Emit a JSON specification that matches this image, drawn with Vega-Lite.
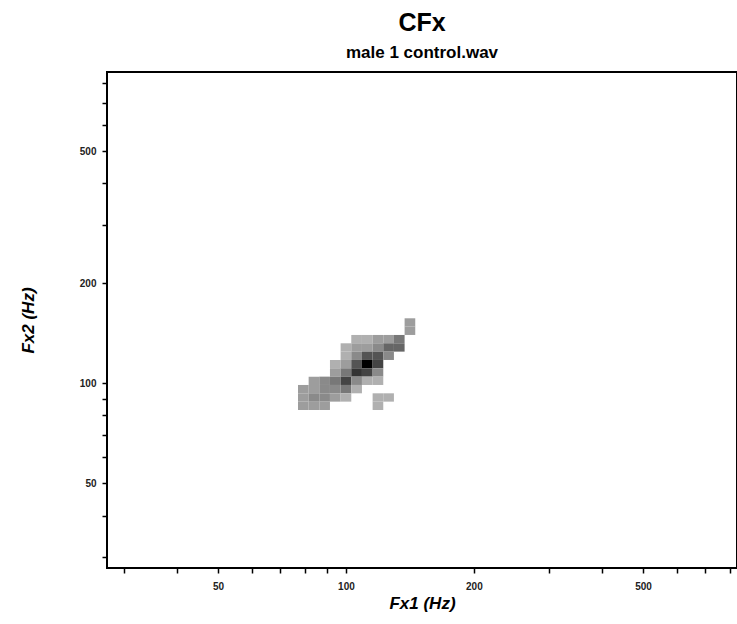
{
  "$schema": "https://vega.github.io/schema/vega-lite/v6.json",
  "width": 630,
  "height": 496,
  "autosize": {"type": "none"},
  "padding": {"left": 107, "top": 72, "right": 0, "bottom": 56},
  "background": "white",
  "title": {
    "text": "CFx",
    "subtitle": "male 1 control.wav",
    "font": "Liberation Sans",
    "fontSize": 25,
    "fontWeight": "bold",
    "color": "black",
    "subtitleFont": "Liberation Sans",
    "subtitleFontSize": 17,
    "subtitleFontWeight": "bold",
    "subtitleColor": "black",
    "anchor": "middle",
    "offset": 11,
    "subtitlePadding": 9
  },
  "config": {
    "view": {"stroke": "black", "strokeWidth": 2},
    "axis": {
      "grid": false,
      "domain": false,
      "tickColor": "black",
      "tickSize": 5,
      "tickWidth": 1.5,
      "labelFont": "Liberation Sans",
      "labelFontSize": 10,
      "labelFontWeight": "bold",
      "labelColor": "#222222",
      "labelOverlap": false,
      "labelFlush": false,
      "titleFont": "Liberation Sans",
      "titleFontSize": 17,
      "titleFontWeight": "bold",
      "titleFontStyle": "italic",
      "titleColor": "black"
    }
  },
  "data": {
    "values": [
      {"a": 137.40, "b": 145.57, "c": 148.11, "d": 156.92, "n": 2},
      {"a": 137.40, "b": 145.57, "c": 139.80, "d": 148.11, "n": 2},
      {"a": 102.93, "b": 109.05, "c": 131.95, "d": 139.80, "n": 1},
      {"a": 109.05, "b": 115.54, "c": 131.95, "d": 139.80, "n": 1},
      {"a": 115.54, "b": 122.41, "c": 131.95, "d": 139.80, "n": 2},
      {"a": 122.41, "b": 129.68, "c": 131.95, "d": 139.80, "n": 2},
      {"a": 129.68, "b": 137.40, "c": 131.95, "d": 139.80, "n": 4},
      {"a": 97.15, "b": 102.93, "c": 124.54, "d": 131.95, "n": 1},
      {"a": 102.93, "b": 109.05, "c": 124.54, "d": 131.95, "n": 2},
      {"a": 109.05, "b": 115.54, "c": 124.54, "d": 131.95, "n": 2},
      {"a": 115.54, "b": 122.41, "c": 124.54, "d": 131.95, "n": 3},
      {"a": 122.41, "b": 129.68, "c": 124.54, "d": 131.95, "n": 5},
      {"a": 129.68, "b": 137.40, "c": 124.54, "d": 131.95, "n": 5},
      {"a": 97.15, "b": 102.93, "c": 117.55, "d": 124.54, "n": 1},
      {"a": 102.93, "b": 109.05, "c": 117.55, "d": 124.54, "n": 3},
      {"a": 109.05, "b": 115.54, "c": 117.55, "d": 124.54, "n": 6},
      {"a": 115.54, "b": 122.41, "c": 117.55, "d": 124.54, "n": 6},
      {"a": 122.41, "b": 129.68, "c": 117.55, "d": 124.54, "n": 3},
      {"a": 91.70, "b": 97.15, "c": 110.96, "d": 117.55, "n": 1},
      {"a": 97.15, "b": 102.93, "c": 110.96, "d": 117.55, "n": 2},
      {"a": 102.93, "b": 109.05, "c": 110.96, "d": 117.55, "n": 6},
      {"a": 109.05, "b": 115.54, "c": 110.96, "d": 117.55, "n": 11},
      {"a": 115.54, "b": 122.41, "c": 110.96, "d": 117.55, "n": 7},
      {"a": 91.70, "b": 97.15, "c": 104.73, "d": 110.96, "n": 2},
      {"a": 97.15, "b": 102.93, "c": 104.73, "d": 110.96, "n": 4},
      {"a": 102.93, "b": 109.05, "c": 104.73, "d": 110.96, "n": 8},
      {"a": 109.05, "b": 115.54, "c": 104.73, "d": 110.96, "n": 7},
      {"a": 115.54, "b": 122.41, "c": 104.73, "d": 110.96, "n": 3},
      {"a": 81.70, "b": 86.55, "c": 98.85, "d": 104.73, "n": 2},
      {"a": 86.55, "b": 91.70, "c": 98.85, "d": 104.73, "n": 3},
      {"a": 91.70, "b": 97.15, "c": 98.85, "d": 104.73, "n": 4},
      {"a": 97.15, "b": 102.93, "c": 98.85, "d": 104.73, "n": 7},
      {"a": 102.93, "b": 109.05, "c": 98.85, "d": 104.73, "n": 3},
      {"a": 109.05, "b": 115.54, "c": 98.85, "d": 104.73, "n": 1},
      {"a": 115.54, "b": 122.41, "c": 98.85, "d": 104.73, "n": 1},
      {"a": 77.11, "b": 81.70, "c": 93.30, "d": 98.85, "n": 2},
      {"a": 81.70, "b": 86.55, "c": 93.30, "d": 98.85, "n": 2},
      {"a": 86.55, "b": 91.70, "c": 93.30, "d": 98.85, "n": 3},
      {"a": 91.70, "b": 97.15, "c": 93.30, "d": 98.85, "n": 3},
      {"a": 97.15, "b": 102.93, "c": 93.30, "d": 98.85, "n": 4},
      {"a": 102.93, "b": 109.05, "c": 93.30, "d": 98.85, "n": 1},
      {"a": 77.11, "b": 81.70, "c": 88.06, "d": 93.30, "n": 2},
      {"a": 81.70, "b": 86.55, "c": 88.06, "d": 93.30, "n": 3},
      {"a": 86.55, "b": 91.70, "c": 88.06, "d": 93.30, "n": 3},
      {"a": 91.70, "b": 97.15, "c": 88.06, "d": 93.30, "n": 2},
      {"a": 97.15, "b": 102.93, "c": 88.06, "d": 93.30, "n": 1},
      {"a": 115.54, "b": 122.41, "c": 88.06, "d": 93.30, "n": 1},
      {"a": 122.41, "b": 129.68, "c": 88.06, "d": 93.30, "n": 1},
      {"a": 77.11, "b": 81.70, "c": 83.12, "d": 88.06, "n": 2},
      {"a": 81.70, "b": 86.55, "c": 83.12, "d": 88.06, "n": 2},
      {"a": 86.55, "b": 91.70, "c": 83.12, "d": 88.06, "n": 2},
      {"a": 115.54, "b": 122.41, "c": 83.12, "d": 88.06, "n": 1}
    ]
  },
  "mark": {"type": "rect"},
  "encoding": {
    "x": {
      "field": "a",
      "type": "quantitative",
      "scale": {"type": "log", "domain": [27.4, 832], "nice": false},
      "axis": {
        "title": "Fx1 (Hz)",
        "values": [30, 40, 50, 60, 70, 80, 90, 100, 200, 300, 400, 500, 600, 700, 800],
        "format": "d",
        "labelExpr": "indexof([50, 100, 200, 500], datum.value) >= 0 ? datum.label : ''",
        "labelPadding": 8,
        "titlePadding": 4
      }
    },
    "x2": {"field": "b"},
    "y": {
      "field": "c",
      "type": "quantitative",
      "scale": {"type": "log", "domain": [27.8, 865], "nice": false},
      "axis": {
        "title": "Fx2 (Hz)",
        "values": [30, 40, 50, 60, 70, 80, 90, 100, 200, 300, 400, 500, 600, 700, 800],
        "format": "d",
        "labelExpr": "indexof([50, 100, 200, 500], datum.value) >= 0 ? datum.label : ''",
        "labelPadding": 6,
        "titlePadding": 42
      }
    },
    "y2": {"field": "d"},
    "color": {
      "field": "n",
      "type": "quantitative",
      "scale": {"domain": [1, 11], "range": ["#b0b0b0", "#000000"]},
      "legend": null
    }
  }
}
